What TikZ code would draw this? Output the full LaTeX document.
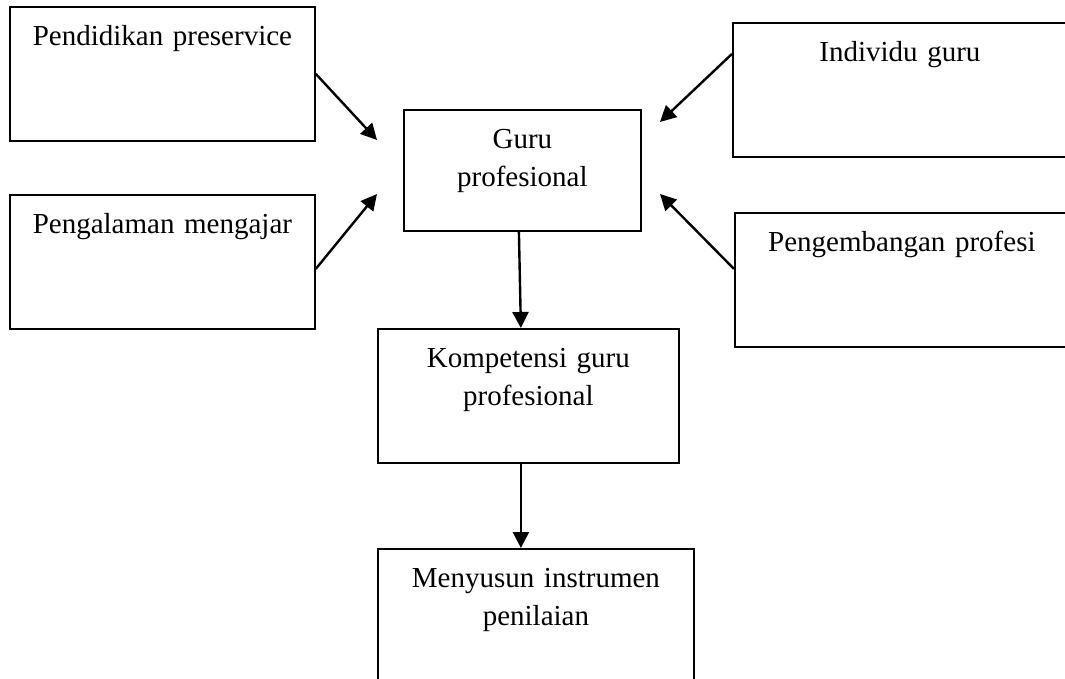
\documentclass[tikz,border=0pt]{standalone}
\usepackage{fontspec}
\setmainfont{Liberation Serif}
\usepackage{tikz}
\usetikzlibrary{arrows.meta, positioning}
\tikzset{
    boxnode/.style={draw, line width=1.8pt, inner sep=0pt, align=center, anchor=north west, text height=38.5pt, font=\fontsize{29}{38.5}\selectfont},
    arrow/.style={line width=2.4pt, -{Triangle[length=16pt, width=16pt]}}
}

\begin{document}
\begin{tikzpicture}[x=1pt, y=-1pt]
    \useasboundingbox (0,0) rectangle (1065,679);

    % Input boxes (left and right)
    \node[boxnode, text width=305pt, text depth=95.5pt] (pre) at (9,6) {Pendidikan preservice};
    \node[boxnode, text width=305pt, text depth=95.5pt] (exp) at (9,194) {Pengalaman mengajar};
    \node[boxnode, text width=334pt, text depth=95.5pt] (indiv) at (732,22) {Individu guru};
    \node[boxnode, text width=334pt, text depth=95.5pt] (dev) at (734,212) {Pengembangan profesi};

    % Main column
    \node[boxnode, text width=237pt, text depth=82.5pt] (guru) at (403,109) {Guru\\profesional};
    \node[boxnode, text width=301pt, text depth=95.5pt] (komp) at (377,328) {Kompetensi guru\\profesional};
    \node[boxnode, text width=316pt, text depth=95.5pt] (instr) at (377,548) {Menyusun instrumen\\penilaian};

    % Arrow ends near Guru profesional
    \coordinate (in1) at (377,140);
    \coordinate (in2) at (377,194);
    \coordinate (in3) at (660,122);
    \coordinate (in4) at (660,194);

    % Connections
    \draw[arrow] (pre.east) -- (in1);
    \draw[arrow] ([yshift=-7pt]exp.east) -- (in2);
    \draw[arrow] ([yshift=36pt]indiv.west) -- (in3);
    \draw[arrow] ([yshift=11pt]dev.west) -- (in4);
    \draw[arrow] ([xshift=-3.5pt]guru.south) -- ([xshift=-7.5pt]komp.north);
    \draw[arrow] ([xshift=-7.5pt]komp.south) -- ([xshift=-15pt]instr.north);

\end{tikzpicture}
\end{document}
